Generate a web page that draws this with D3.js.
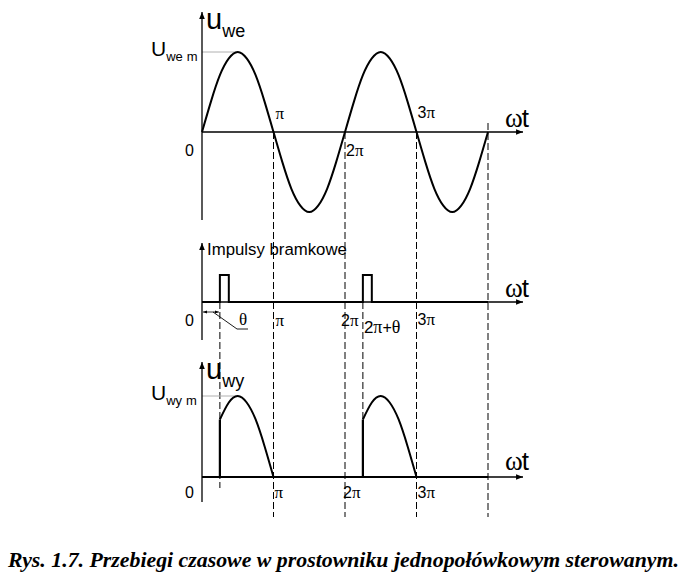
<!DOCTYPE html>
<html><head><meta charset="utf-8">
<script src="https://cdn.jsdelivr.net/npm/d3@7"></script>
<style>body{margin:0;background:#fff}svg{display:block}</style>
</head><body>
<script>
// ---- data (phase in units of π) ----
const inPhase = [0,0.125,0.25,0.375,0.5,0.625,0.75,0.875,1,1.125,1.25,1.375,1.5,1.625,1.75,1.875,2,
                 2.125,2.25,2.375,2.5,2.625,2.75,2.875,3,3.125,3.25,3.375,3.5,3.625,3.75,3.875,4];
const inValue = [0,0.38,0.71,0.92,1,0.92,0.71,0.38,0,-0.38,-0.71,-0.92,-1,-0.92,-0.71,-0.38,0,
                 0.38,0.71,0.92,1,0.92,0.71,0.38,0,-0.38,-0.71,-0.92,-1,-0.92,-0.71,-0.38,0];
const theta = 0.25;
const pulseStarts = [0.25, 2.25];
const pulseWidth = 0.125;
const arcPhase1 = [0.25,0.375,0.5,0.625,0.75,0.875,1];
const arcPhase2 = [2.25,2.375,2.5,2.625,2.75,2.875,3];
const arcValue  = [0.71,0.92,1,0.92,0.71,0.38,0];
const tickValues = [1,2,3];
const tickDigits = ["","2","3"];
const dashedFull = [1,2,3,4];
const dashedTheta = [0.25, 2.25];
const caption = "Rys. 1.7. Przebiegi czasowe w prostowniku jednopołówkowym sterowanym.";

const W = 691, H = 579;
const svg = d3.select("body").append("svg").attr("width", W).attr("height", H);
const sans = "Liberation Sans, Arial, sans-serif";
const serif = "Liberation Serif, Times New Roman, serif";

const x = d3.scaleLinear().domain([0,4]).range([202,488]);
const yTop = d3.scaleLinear().domain([-1,1]).range([212,52]);
const yMid = d3.scaleLinear().domain([0,1]).range([302,275]);
const yBot = d3.scaleLinear().domain([0,1]).range([477,396]);

const defs = svg.append("defs");
defs.append("marker").attr("id","arr").attr("viewBox","0 0 10 10").attr("refX",10).attr("refY",5)
  .attr("markerWidth",7).attr("markerHeight",7).attr("markerUnits","userSpaceOnUse").attr("orient","auto")
  .append("path").attr("d","M0,1 L10,5 L0,9 Z").attr("fill","#000");
defs.append("marker").attr("id","arrS").attr("viewBox","0 0 10 10").attr("refX",10).attr("refY",5)
  .attr("markerWidth",4).attr("markerHeight",4).attr("markerUnits","userSpaceOnUse").attr("orient","auto-start-reverse")
  .append("path").attr("d","M0,1 L10,5 L0,9 Z").attr("fill","#000");

// dashed verticals
const dash = svg.append("g").attr("stroke","#000").attr("stroke-width",1).attr("stroke-dasharray","7,3");
dashedFull.forEach(v => {
  dash.append("line").attr("x1",x(v)).attr("x2",x(v)).attr("y1", v===4 ? yTop(0)-9 : yTop(0)).attr("y2",517);
});
dashedTheta.forEach((v,i) => {
  dash.append("line").attr("x1",x(v)).attr("x2",x(v)).attr("y1",yMid(0)).attr("y2", i===0 ? 488 : 478);
});

// peak dotted guides
svg.append("line").attr("x1",x(0)).attr("x2",x(0.5)).attr("y1",yTop(1)).attr("y2",yTop(1))
  .attr("stroke","#b0b0b0").attr("stroke-width",1);
svg.append("line").attr("x1",x(0)).attr("x2",x(0.5)).attr("y1",yBot(1)).attr("y2",yBot(1))
  .attr("stroke","#b0b0b0").attr("stroke-width",1);

// axes
function vAxis(y1,y2){ svg.append("line").attr("x1",x(0)).attr("x2",x(0)).attr("y1",y2).attr("y2",y1)
  .attr("stroke","#000").attr("stroke-width",1.3).attr("marker-end","url(#arr)"); }
function hAxis(y){ svg.append("line").attr("x1",x(0)).attr("x2",x(4.49)).attr("y1",y).attr("y2",y)
  .attr("stroke","#000").attr("stroke-width",1.3).attr("marker-end","url(#arr)"); }
vAxis(12,220); hAxis(yTop(0));
vAxis(243,340); hAxis(yMid(0));
vAxis(362,502); hAxis(yBot(0));

// input sine
const lineTop = d3.line().x((d,i)=>x(inPhase[i])).y(d=>yTop(d)).curve(d3.curveNatural);
svg.append("path").attr("d",lineTop(inValue)).attr("fill","none").attr("stroke","#000").attr("stroke-width",2);

// gate pulses
const gatePts = [[0,0]];
pulseStarts.forEach(s => { gatePts.push([s,0],[s,1],[s+pulseWidth,1],[s+pulseWidth,0]); });
gatePts.push([4,0]);
svg.append("path").attr("d", d3.line().x(d=>x(d[0])).y(d=>yMid(d[1]))(gatePts))
  .attr("fill","none").attr("stroke","#000").attr("stroke-width",2);

// output
svg.append("line").attr("x1",x(0)).attr("x2",x(4)).attr("y1",yBot(0)).attr("y2",yBot(0))
  .attr("stroke","#000").attr("stroke-width",2.2);
[arcPhase1, arcPhase2].forEach(ph => {
  svg.append("line").attr("x1",x(ph[0])).attr("x2",x(ph[0])).attr("y1",yBot(0)).attr("y2",yBot(arcValue[0]))
    .attr("stroke","#000").attr("stroke-width",2.2);
  const ln = d3.line().x((d,i)=>x(ph[i])).y(d=>yBot(d)).curve(d3.curveNatural);
  svg.append("path").attr("d",ln(arcValue)).attr("fill","none").attr("stroke","#000").attr("stroke-width",2);
});

// theta dimension
svg.append("line").attr("x1",x(0)+1).attr("x2",x(theta)-1).attr("y1",312).attr("y2",312)
  .attr("stroke","#000").attr("stroke-width",0.8)
  .attr("marker-start","url(#arrS)").attr("marker-end","url(#arrS)");
svg.append("path").attr("d",`M${x(0)+11},312 L237,329 L248,329`).attr("fill","none").attr("stroke","#000").attr("stroke-width",0.9);

// text helpers
function t(xp,yp,size,fam,txt){ return svg.append("text").attr("x",xp).attr("y",yp).attr("font-size",size).attr("font-family",fam).attr("fill","#000").text(txt); }
function piLabel(xp,yp,digit,extra){
  const tx = svg.append("text").attr("x",xp).attr("y",yp).attr("font-size",16).attr("fill","#000");
  if(digit) tx.append("tspan").attr("font-family",sans).attr("font-size",extra?17:16).text(digit);
  tx.append("tspan").attr("font-family",serif).attr("font-size",extra?18:17).text("π");
  if(extra){ tx.append("tspan").attr("font-family",sans).attr("font-size",16).text("+");
             tx.append("tspan").attr("font-family",serif).attr("font-size",18).text("θ"); }
  return tx;
}
function subLabel(xp,yp,main,sub,ms,ss,dy,sub2){
  const tx = svg.append("text").attr("x",xp).attr("y",yp).attr("font-family",sans).attr("fill","#000");
  tx.append("tspan").attr("font-size",ms).text(main);
  tx.append("tspan").attr("font-size",ss).attr("dy",dy).text(sub);
  if(sub2) tx.append("tspan").attr("font-size",ss).attr("dx",4).text(sub2);
}
function omegaT(yp){
  const tx = svg.append("text").attr("x",505).attr("y",yp).attr("fill","#000");
  tx.append("tspan").attr("font-family",serif).attr("font-size",27).text("ω");
  tx.append("tspan").attr("font-family",sans).attr("font-size",26).attr("dx",-1).text("t");
}

// top panel labels
subLabel(206,29,"u","we",29,18,8);
subLabel(151,56,"U","we",21,13,5,"m");
t(185,156,16,sans,"0");
piLabel(x(1)+2,119,tickDigits[0]);
piLabel(x(2)+1,156,tickDigits[1]);
piLabel(x(3)+1,118,tickDigits[2]);
omegaT(127);

// middle panel labels
t(207,255,16.8,sans,"Impulsy bramkowe");
t(185,326,16,sans,"0");
piLabel(x(1)+2,326,tickDigits[0]);
piLabel(x(2)-4,326,tickDigits[1]);
piLabel(x(2.25)+1,333,"2",true);
piLabel(x(3)+1,325,tickDigits[2]);
svg.append("text").attr("x",239).attr("y",325).attr("font-family",serif).attr("font-size",17).text("θ");
omegaT(297);

// bottom panel labels
subLabel(206,379,"u","wy",29,18,8);
subLabel(151,400,"U","wy",21,13,5,"m");
t(185,498,16,sans,"0");
piLabel(x(1)+1,498,tickDigits[0]);
piLabel(x(2)-2,498,tickDigits[1]);
piLabel(x(3)+1,498,tickDigits[2]);
omegaT(470);

// caption
svg.append("text").attr("x",8).attr("y",567).attr("font-family",serif).attr("font-weight","bold")
  .attr("font-style","italic").attr("font-size",22).attr("textLength",671).attr("lengthAdjust","spacingAndGlyphs")
  .attr("fill","#000").text(caption);
</script>
</body></html>
